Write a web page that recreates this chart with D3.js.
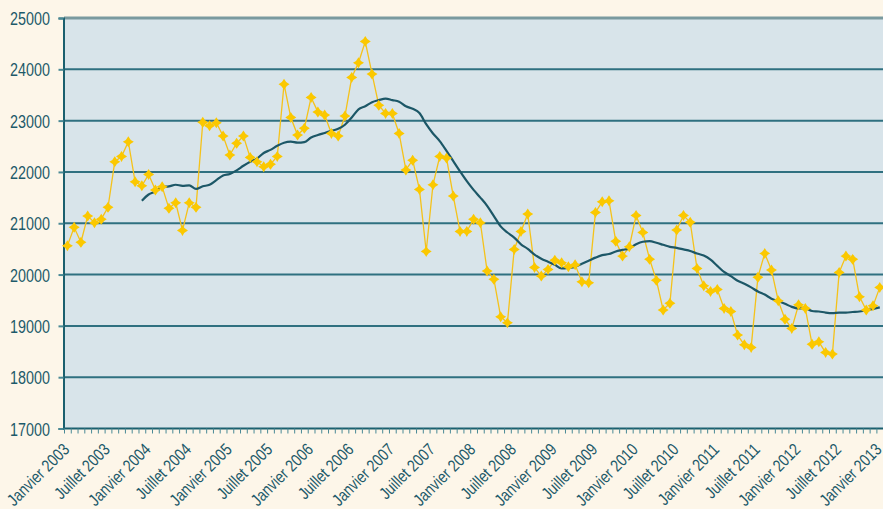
<!DOCTYPE html>
<html><head><meta charset="utf-8">
<script src="https://cdn.jsdelivr.net/npm/d3@7"></script>
<style>html,body{margin:0;padding:0;background:#fdf6e9;overflow:hidden}</style>
</head><body><svg id="c" width="883" height="509"></svg>
<script>
const monthNames = ["Janvier","Février","Mars","Avril","Mai","Juin","Juillet","Août","Septembre","Octobre","Novembre","Décembre"];
const years = [2003,2004,2005,2006,2007,2008,2009,2010,2011,2012,2013];
const categories = [];
years.forEach(y => monthNames.forEach(m => categories.push(m + " " + y)));
categories.length = 121; // Janvier 2003 .. Janvier 2013

const tickLabels = ["Janvier 2003","Juillet 2003","Janvier 2004","Juillet 2004","Janvier 2005","Juillet 2005",
  "Janvier 2006","Juillet 2006","Janvier 2007","Juillet 2007","Janvier 2008","Juillet 2008","Janvier 2009",
  "Juillet 2009","Janvier 2010","Juillet 2010","Janvier 2011","Juillet 2011","Janvier 2012","Juillet 2012","Janvier 2013"];
const yTicks = [17000,18000,19000,20000,21000,22000,23000,24000,25000];

const monthly = [
 20560,20920,20630,21140,21010,21080,21310,22200,22300,22590,21810,21730,
 21950,21650,21710,21290,21400,20860,21400,21310,22970,22900,22960,22700,
 22330,22560,22700,22280,22200,22100,22150,22300,23710,23060,22720,22850,
 23450,23170,23110,22750,22700,23090,23840,24130,24540,23910,23300,23140,
 23140,22750,22040,22230,21660,20450,21750,22300,22270,21530,20840,20840,
 21080,21010,20070,19910,19180,19060,20490,20840,21180,20140,19970,20100,
 20280,20230,20150,20190,19860,19840,21210,21420,21440,20650,20360,20540,
 21150,20820,20300,19890,19310,19440,20870,21150,21020,20120,19780,19670,
 19710,19340,19280,18820,18630,18580,19950,20410,20090,19490,19130,18950,
 19410,19340,18640,18690,18480,18450,20040,20360,20300,19570,19310,19390,
 19750];

const movingAvg = [
 null,null,null,null,null,null,null,null,null,null,null,21440,
 21560,21620,21710,21720,21750,21730,21740,21670,21720,21750,21840,21930,
 21960,22030,22120,22200,22260,22370,22430,22510,22570,22590,22570,22580,
 22670,22720,22760,22800,22840,22920,23060,23220,23280,23360,23400,23430,
 23400,23370,23280,23230,23150,22930,22750,22600,22410,22210,22010,21820,
 21650,21500,21340,21140,20940,20820,20720,20590,20500,20390,20310,20250,
 20190,20120,20130,20150,20210,20270,20330,20380,20400,20450,20480,20510,
 20590,20640,20650,20620,20580,20540,20520,20490,20460,20410,20370,20290,
 20170,20050,19970,19880,19820,19750,19670,19610,19530,19480,19430,19370,
 19340,19340,19290,19280,19260,19250,19260,19260,19270,19280,19300,19330,
 19360];

const svg = d3.select("#c");
const font = "'Liberation Sans',Arial,sans-serif";
const textCol = "#1d5a6a";
const narrow = 0.82;
const plotL = 64, plotT = 18, plotB = 428.5;
const x = d3.scaleBand().domain(categories).range([plotL, plotL + 121 * 6.77]).padding(0);
const xc = c => x(c) + x.bandwidth() / 2;
const y = d3.scaleLinear().domain([17000, 25000]).range([plotB, plotT]);

svg.append("rect").attr("width", 883).attr("height", 509).attr("fill", "#fdf6e9");
svg.append("rect").attr("x", plotL).attr("y", plotT).attr("width", 900 - plotL).attr("height", plotB - plotT).attr("fill", "#d8e4ea");

// gridlines
svg.append("g").selectAll("line").data(yTicks.filter(v => v > 17000)).join("line")
  .attr("x1", plotL).attr("x2", 900)
  .attr("y1", d => y(d)).attr("y2", d => y(d))
  .attr("stroke", d => d === 25000 ? "#7a9a9f" : "#2f7080")
  .attr("stroke-width", d => d === 25000 ? 3 : 2);

// y axis
const yAxis = svg.append("g").attr("transform", `translate(${plotL - 0.5},0)`)
  .call(d3.axisLeft(y).tickValues(yTicks).tickSize(5).tickFormat(""));
yAxis.select(".domain").attr("stroke", "#1a5f6e").attr("stroke-width", 2);
yAxis.selectAll(".tick line").attr("stroke", "#4a8a96").attr("stroke-width", 2);
svg.append("g").selectAll("text").data(yTicks).join("text")
  .attr("transform", d => `translate(50,${y(d) + 1}) scale(${narrow},1)`)
  .attr("text-anchor", "end").attr("dy", "0.35em")
  .attr("font-family", font).attr("font-size", 17.5).attr("fill", textCol)
  .text(d => d3.format("d")(d));

// x axis line and monthly ticks
svg.append("line").attr("x1", plotL).attr("x2", 900).attr("y1", plotB).attr("y2", plotB)
  .attr("stroke", "#1a5f6e").attr("stroke-width", 2);
svg.append("g").selectAll("line").data(categories).join("line")
  .attr("x1", d => x(d) + 0.5).attr("x2", d => x(d) + 0.5)
  .attr("y1", plotB).attr("y2", plotB + 5)
  .attr("stroke", "#4a8a96").attr("stroke-width", 1);

// x labels
svg.append("g").selectAll("text").data(tickLabels).join("text")
  .attr("transform", d => `translate(${xc(d) + 3},${plotB + 22}) rotate(-45) scale(${narrow},1)`)
  .attr("text-anchor", "end")
  .attr("font-family", font).attr("font-size", 17).attr("fill", textCol)
  .text(d => d);

// monthly series
const pts = categories.map((c, i) => ({c, v: monthly[i]}));
svg.append("path").datum(pts)
  .attr("d", d3.line().x(d => xc(d.c)).y(d => y(d.v)))
  .attr("fill", "none").attr("stroke", "#f5c21a").attr("stroke-width", 1.3);

// moving average
const ma = categories.map((c, i) => ({c, v: movingAvg[i]}));
svg.append("path").datum(ma)
  .attr("d", d3.line().defined(d => d.v != null).x(d => xc(d.c)).y(d => y(d.v)).curve(d3.curveMonotoneX))
  .attr("fill", "none").attr("stroke", "#1c5767").attr("stroke-width", 2.2);

// markers
svg.append("g").selectAll("path").data(pts).join("path")
  .attr("transform", d => `translate(${xc(d.c)},${y(d.v)})`)
  .attr("d", "M0,-5.5Q1.6,-1.6 5.5,0Q1.6,1.6 0,5.5Q-1.6,1.6 -5.5,0Q-1.6,-1.6 0,-5.5Z")
  .attr("fill", "#fbc800");
</script></body></html>
